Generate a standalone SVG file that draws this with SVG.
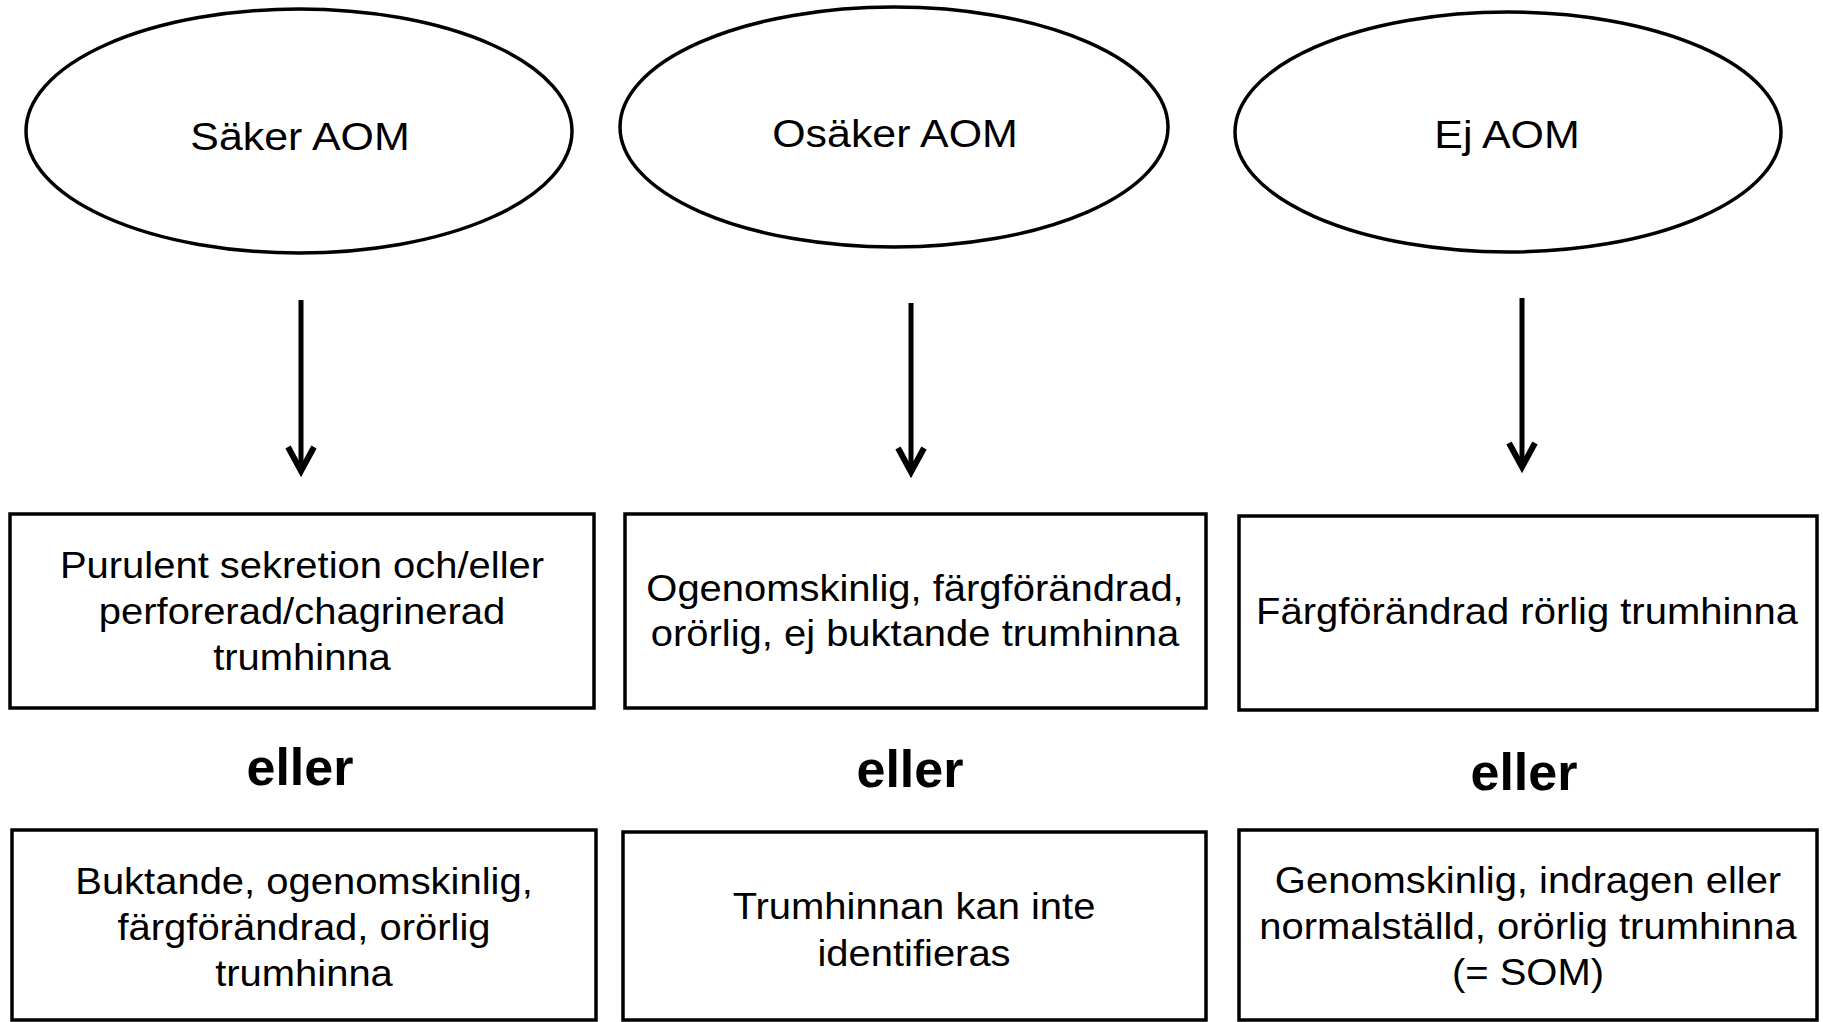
<svg xmlns="http://www.w3.org/2000/svg" width="1823" height="1022" viewBox="0 0 1823 1022">
  <style>
    .shape { fill: #ffffff; stroke: #000000; stroke-width: 3.5; }
    .conn { stroke: #000000; stroke-width: 5; fill: none; }
    .t-ell { font-family: "Liberation Sans", Arial, sans-serif; font-size: 39px; fill: #000000; text-anchor: middle; }
    .t-box { font-family: "Liberation Sans", Arial, sans-serif; font-size: 37px; fill: #000000; text-anchor: middle; }
    .t-or { font-family: "Liberation Sans", Arial, sans-serif; font-size: 52px; font-weight: bold; fill: #000000; text-anchor: middle; }
  </style>
  <defs>
    <marker id="arrow" viewBox="-32 -18 40 36" markerWidth="40" markerHeight="36" refX="0" refY="0" orient="auto" markerUnits="userSpaceOnUse" overflow="visible">
      <path d="M-24,-13 L0,0 L-24,13" fill="none" stroke="#000000" stroke-width="6" stroke-linejoin="miter"/>
    </marker>
  </defs>
  <rect width="1823" height="1022" fill="#ffffff"/>

  <g id="connectors">
    <line class="conn" x1="301" y1="300" x2="301" y2="471" marker-end="url(#arrow)"/>
    <line class="conn" x1="911" y1="303" x2="911" y2="472" marker-end="url(#arrow)"/>
    <line class="conn" x1="1522" y1="298" x2="1522" y2="467" marker-end="url(#arrow)"/>
  </g>

  <g id="node-saker-aom">
    <ellipse class="shape" cx="299" cy="131" rx="273" ry="122"/>
    <text class="t-ell" transform="translate(300,0) scale(1.1,1)" x="0" y="150">Säker AOM</text>
  </g>
  <g id="node-osaker-aom">
    <ellipse class="shape" cx="894" cy="127" rx="274" ry="120"/>
    <text class="t-ell" transform="translate(895,0) scale(1.1,1)" x="0" y="147">Osäker AOM</text>
  </g>
  <g id="node-ej-aom">
    <ellipse class="shape" cx="1508" cy="132" rx="273" ry="120"/>
    <text class="t-ell" transform="translate(1507,0) scale(1.1,1)" x="0" y="148">Ej AOM</text>
  </g>

  <g id="node-box1a">
    <rect class="shape" x="10" y="514" width="584" height="194"/>
    <g transform="translate(302,0) scale(1.08,1)">
      <text class="t-box" x="0" y="578">Purulent sekretion och/eller</text>
      <text class="t-box" x="0" y="624">perforerad/chagrinerad</text>
      <text class="t-box" x="0" y="670">trumhinna</text>
    </g>
  </g>
  <g id="node-box2a">
    <rect class="shape" x="625" y="514" width="581" height="194"/>
    <g transform="translate(915,0) scale(1.08,1)">
      <text class="t-box" x="0" y="601">Ogenomskinlig, färgförändrad,</text>
      <text class="t-box" x="0" y="646">orörlig, ej buktande trumhinna</text>
    </g>
  </g>
  <g id="node-box3a">
    <rect class="shape" x="1239" y="516" width="578" height="194"/>
    <g transform="translate(1527,0) scale(1.08,1)">
      <text class="t-box" x="0" y="624">Färgförändrad rörlig trumhinna</text>
    </g>
  </g>

  <g id="node-or1">
    <text class="t-or" x="300" y="785">eller</text>
  </g>
  <g id="node-or2">
    <text class="t-or" x="910" y="787">eller</text>
  </g>
  <g id="node-or3">
    <text class="t-or" x="1524" y="790">eller</text>
  </g>

  <g id="node-box1b">
    <rect class="shape" x="12" y="830" width="584" height="190"/>
    <g transform="translate(304,0) scale(1.08,1)">
      <text class="t-box" x="0" y="894">Buktande, ogenomskinlig,</text>
      <text class="t-box" x="0" y="940">färgförändrad, orörlig</text>
      <text class="t-box" x="0" y="986">trumhinna</text>
    </g>
  </g>
  <g id="node-box2b">
    <rect class="shape" x="623" y="832" width="583" height="188"/>
    <g transform="translate(914,0) scale(1.08,1)">
      <text class="t-box" x="0" y="919">Trumhinnan kan inte</text>
      <text class="t-box" x="0" y="966">identifieras</text>
    </g>
  </g>
  <g id="node-box3b">
    <rect class="shape" x="1239" y="830" width="578" height="190"/>
    <g transform="translate(1528,0) scale(1.08,1)">
      <text class="t-box" x="0" y="893">Genomskinlig, indragen eller</text>
      <text class="t-box" x="0" y="939">normalställd, orörlig trumhinna</text>
      <text class="t-box" x="0" y="985">(= SOM)</text>
    </g>
  </g>
</svg>
